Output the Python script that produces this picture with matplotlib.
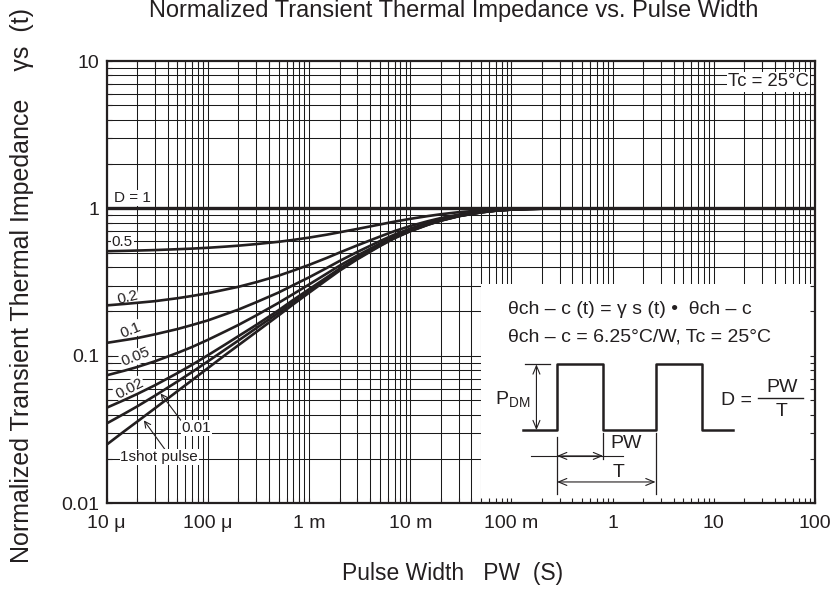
import numpy as np
import matplotlib.pyplot as plt
from matplotlib.patches import Rectangle
from matplotlib.ticker import FixedLocator, FixedFormatter, NullFormatter, LogLocator

plt.rcParams['font.family'] = ['Liberation Sans', 'DejaVu Sans']

# pulse width PW (s) where the curves were read
pw = [1e-5, 1.5e-5, 2e-5, 3e-5, 5e-5, 7e-5,
      1e-4, 1.5e-4, 2e-4, 3e-4, 5e-4, 7e-4,
      1e-3, 1.5e-3, 2e-3, 3e-3, 5e-3, 7e-3,
      1e-2, 1.5e-2, 2e-2, 3e-2, 5e-2, 7e-2,
      1e-1, 1.5e-1, 2e-1, 5e-1, 1, 10, 100]

# normalized transient thermal impedance, one list per duty D
r_d05 = [0.5125, 0.5155, 0.518, 0.522, 0.529, 0.534,
         0.541, 0.551, 0.559, 0.573, 0.594, 0.612,
         0.634, 0.664, 0.689, 0.726, 0.778, 0.814,
         0.85, 0.888, 0.913, 0.943, 0.97, 0.983,
         0.991, 0.996, 0.998, 1.0, 1.0, 1.0, 1.0]
r_d02 = [0.22, 0.225, 0.229, 0.235, 0.246, 0.255,
         0.266, 0.282, 0.294, 0.316, 0.350, 0.379,
         0.414, 0.462, 0.502, 0.562, 0.644, 0.702,
         0.76, 0.82, 0.86, 0.908, 0.952, 0.972,
         0.986, 0.994, 0.997, 1.0, 1.0, 1.0, 1.0]
r_d01 = [0.1225, 0.128, 0.132, 0.140, 0.152, 0.162,
         0.174, 0.192, 0.206, 0.231, 0.269, 0.302,
         0.341, 0.395, 0.440, 0.507, 0.600, 0.665,
         0.73, 0.798, 0.843, 0.897, 0.946, 0.969,
         0.984, 0.993, 0.996, 1.0, 1.0, 1.0, 1.0]
r_d005 = [0.0738, 0.0794, 0.084, 0.0919, 0.1047, 0.115,
          0.1285, 0.147, 0.162, 0.188, 0.229, 0.263,
          0.305, 0.362, 0.409, 0.479, 0.577, 0.647,
          0.715, 0.786, 0.834, 0.891, 0.943, 0.967,
          0.983, 0.992, 0.996, 1.0, 1.0, 1.0, 1.0]
r_d002 = [0.0445, 0.0503, 0.0551, 0.0632, 0.0764, 0.0871,
          0.101, 0.120, 0.136, 0.162, 0.204, 0.240,
          0.283, 0.341, 0.390, 0.463, 0.564, 0.635,
          0.706, 0.780, 0.829, 0.887, 0.941, 0.966,
          0.982, 0.992, 0.996, 1.0, 1.0, 1.0, 1.0]
r_d001 = [0.0348, 0.0406, 0.0454, 0.0537, 0.067, 0.0778,
          0.0918, 0.111, 0.127, 0.154, 0.196, 0.232,
          0.275, 0.335, 0.384, 0.457, 0.559, 0.632,
          0.703, 0.777, 0.827, 0.886, 0.941, 0.965,
          0.982, 0.992, 0.996, 1.0, 1.0, 1.0, 1.0]
r_single = [0.025, 0.0309, 0.0358, 0.0441, 0.0576, 0.0685,
            0.0826, 0.102, 0.118, 0.145, 0.188, 0.224,
            0.268, 0.328, 0.378, 0.452, 0.555, 0.628,
            0.70, 0.775, 0.825, 0.885, 0.94, 0.965,
            0.982, 0.992, 0.996, 1.0, 1.0, 1.0, 1.0]
pw_d1 = [1e-5, 100]
r_d1 = [1.0, 1.0]

xticks = [1e-5, 1e-4, 1e-3, 1e-2, 1e-1, 1, 10, 100]
xticklabels = ['10 \u03bc', '100 \u03bc', '1 m', '10 m', '100 m', '1', '10', '100']
yticks = [0.01, 0.1, 1, 10]
yticklabels = ['0.01', '0.1', '1', '10']

ink = '#231f20'

fig = plt.figure(figsize=(8.37, 5.89), dpi=100)
ax = fig.add_axes([106.7/837, (589-503.3)/589, 708.3/837, 442.3/589])
ax.set_xscale('log')
ax.set_yscale('log')
ax.set_xlim(1e-5, 100)
ax.set_ylim(0.01, 10)

# grid drawn by hand so the white inset box can sit over it but under the ticks
gx = [m * 10.0**k for k in range(-5, 2) for m in range(1, 10)]
gy = [m * 10.0**k for k in range(-2, 1) for m in range(1, 10)]
ax.vlines(gx, 0.01, 10, colors='#1a1a1a', lw=0.75, zorder=1)
ax.hlines(gy, 1e-5, 100, colors='#1a1a1a', lw=0.75, zorder=1)

ax.add_patch(Rectangle((0.528, 0.0), 0.472, 0.496, transform=ax.transAxes,
                       facecolor='white', edgecolor='none', zorder=2))

for r in [r_d05, r_d02, r_d01, r_d005, r_d002, r_d001, r_single]:
    ax.plot(pw, r, color=ink, lw=1.9, zorder=4)
ax.plot(pw_d1, r_d1, color=ink, lw=2.4, zorder=4)

ax.set_axisbelow(False)
ax.xaxis.set_major_locator(FixedLocator(xticks))
ax.xaxis.set_major_formatter(FixedFormatter(xticklabels))
ax.yaxis.set_major_locator(FixedLocator(yticks))
ax.yaxis.set_major_formatter(FixedFormatter(yticklabels))
ax.xaxis.set_minor_locator(LogLocator(base=10, subs=np.arange(2, 10), numticks=20))
ax.yaxis.set_minor_locator(LogLocator(base=10, subs=np.arange(2, 10), numticks=20))
ax.xaxis.set_minor_formatter(NullFormatter())
ax.yaxis.set_minor_formatter(NullFormatter())
ax.tick_params(which='both', direction='in', top=True, right=True,
               length=3.5, width=0.8, color=ink, labelsize=14, labelcolor=ink)
ax.tick_params(axis='x', which='major', pad=8.5)
ax.tick_params(axis='y', which='major', pad=5.5)
for s in ax.spines.values():
    s.set_linewidth(1.6)
    s.set_color(ink)
    s.set_zorder(5)

box = dict(facecolor='white', edgecolor='none', pad=0.6)
lab = dict(fontsize=11, color=ink, zorder=3, bbox=box)
ax.text(1.17e-5, 1.18, 'D = 1', ha='left', va='center', **lab)
ax.text(1.12e-5, 0.59, '0.5', ha='left', va='center', **lab)
ax.text(1.6e-5, 0.25, '0.2', ha='center', va='center', rotation=14, **lab)
ax.text(1.72e-5, 0.149, '0.1', ha='center', va='center', rotation=22, **lab)
ax.text(1.93e-5, 0.098, '0.05', ha='center', va='center', rotation=22, **lab)
ax.text(1.69e-5, 0.060, '0.02', ha='center', va='center', rotation=27, **lab)
ax.annotate('0.01', xy=(3.41e-5, 0.0556), xytext=(7.7e-5, 0.0323),
            ha='center', va='center', fontsize=11, color=ink, zorder=3, bbox=box,
            arrowprops=dict(arrowstyle='->', color=ink, lw=0.8, shrinkA=0, shrinkB=0,
                            relpos=(0.0, 1.0)))
ax.annotate('1shot pulse', xy=(2.33e-5, 0.0365), xytext=(3.3e-5, 0.0206),
            ha='center', va='center', fontsize=11, color=ink, zorder=3, bbox=box,
            arrowprops=dict(arrowstyle='->', color=ink, lw=0.8, shrinkA=0, shrinkB=0,
                            relpos=(0.58, 1.0)))
ax.text(0.9915, 0.953, 'Tc = 25\u00b0C', transform=ax.transAxes, ha='right', va='center',
        fontsize=13.3, color=ink, zorder=3, bbox=dict(facecolor='white', edgecolor='none', pad=1))

# inset diagram, in pixel units of the white box
ins = ax.inset_axes([0.528, 0.0, 0.472, 0.496])
ins.set_xlim(0, 334)
ins.set_ylim(219, 0)
ins.axis('off')
ins.patch.set_alpha(0)

wave_x = [42.3, 76.3, 76.3, 122.3, 122.3, 174.7, 174.7, 220.7, 220.7, 252.3]
wave_y = [146, 146, 80.3, 80.3, 146, 146, 80.3, 80.3, 146, 146]
ins.plot(wave_x, wave_y, color=ink, lw=1.8)
ins.plot([44, 69], [80.3, 80.3], color=ink, lw=0.9)
ins.plot([76.3, 76.3], [152.7, 209.3], color=ink, lw=0.9)
ins.plot([122.3, 122.3], [149.3, 174.3], color=ink, lw=0.9)
ins.plot([174.7, 174.7], [149.3, 209.3], color=ink, lw=0.9)
ins.plot([50.7, 142.3], [171.7, 171.7], color=ink, lw=0.8)
ins.plot([277.3, 322.3], [113.7, 113.7], color=ink, lw=1.0)

arw = dict(arrowstyle='<->,head_length=0.6,head_width=0.25', color=ink, lw=0.8,
           shrinkA=0, shrinkB=0)
ins.annotate('', xy=(55.7, 80.3), xytext=(55.7, 146), arrowprops=arw)
ins.annotate('', xy=(76.3, 171.7), xytext=(122.3, 171.7), arrowprops=arw)
ins.annotate('', xy=(76.3, 197.7), xytext=(174.7, 197.7), arrowprops=arw)

tx = dict(fontsize=14, color=ink)
ins.text(27, 26, '\u03b8ch \u2013 c (t) = \u03b3 s (t) \u2022  \u03b8ch \u2013 c', ha='left', va='center', **tx)
ins.text(27, 53, '\u03b8ch \u2013 c = 6.25\u00b0C/W, Tc = 25\u00b0C', ha='left', va='center', **tx)
ins.text(31.5, 116, r'P$_\mathregular{DM}$', ha='center', va='center', **tx)
ins.text(255.7, 116, 'D =', ha='center', va='center', **tx)
ins.text(300.7, 103.3, 'PW', ha='center', va='center', **tx)
ins.text(300.7, 127.7, 'T', ha='center', va='center', **tx)
ins.text(144.8, 159.3, 'PW', ha='center', va='center', **tx)
ins.text(137.3, 188.5, 'T', ha='center', va='center', **tx)

fig.text(149/837, 1 - 17/589, 'Normalized Transient Thermal Impedance vs. Pulse Width',
         ha='left', va='baseline', fontsize=17, color=ink)
fig.text(452.5/837, 1 - 580/589, 'Pulse Width   PW  (S)', ha='center', va='baseline',
         fontsize=16.5, color=ink)
fig.text(22/837, 1 - 563/589, 'Normalized Transient Thermal Impedance    \u03b3s  (t)',
         ha='center', va='bottom', rotation=90, fontsize=18, color=ink)

fig.savefig('out.png', dpi=100, facecolor='white')
